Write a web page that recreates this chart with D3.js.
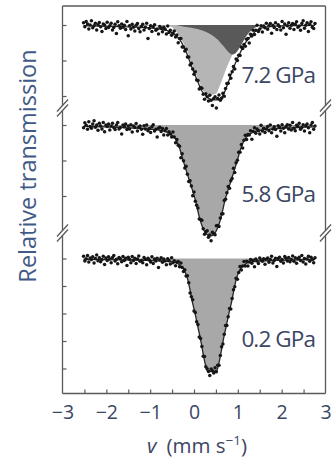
<!DOCTYPE html>
<html>
<head>
<meta charset="utf-8">
<script src="https://cdn.jsdelivr.net/npm/d3@7"></script>
<style>
  body { margin: 0; background: #fff; }
  svg { display: block; }
  text { font-family: 'Open Sans', sans-serif; }
</style>
</head>
<body>
<svg id="chart" width="332" height="461"></svg>
<script>
// velocity channels (mm/s)
const velocity = [
  -2.52,-2.49,-2.46,-2.43,-2.40,-2.37,-2.34,-2.31,-2.28,-2.25,
  -2.22,-2.19,-2.16,-2.13,-2.10,-2.07,-2.04,-2.01,-1.98,-1.95,
  -1.92,-1.89,-1.86,-1.83,-1.80,-1.77,-1.74,-1.71,-1.68,-1.65,
  -1.62,-1.59,-1.56,-1.53,-1.50,-1.47,-1.44,-1.41,-1.38,-1.35,
  -1.32,-1.29,-1.26,-1.23,-1.20,-1.17,-1.14,-1.11,-1.08,-1.05,
  -1.02,-0.99,-0.96,-0.93,-0.90,-0.87,-0.84,-0.81,-0.78,-0.75,
  -0.72,-0.69,-0.66,-0.63,-0.60,-0.57,-0.54,-0.51,-0.48,-0.45,
  -0.42,-0.39,-0.36,-0.33,-0.30,-0.27,-0.24,-0.21,-0.18,-0.15,
  -0.12,-0.09,-0.06,-0.03,0.00,0.03,0.06,0.09,0.12,0.15,
  0.18,0.21,0.24,0.27,0.30,0.33,0.36,0.39,0.42,0.45,
  0.48,0.51,0.54,0.57,0.60,0.63,0.66,0.69,0.72,0.75,
  0.78,0.81,0.84,0.87,0.90,0.93,0.96,0.99,1.02,1.05,
  1.08,1.11,1.14,1.17,1.20,1.23,1.26,1.29,1.32,1.35,
  1.38,1.41,1.44,1.47,1.50,1.53,1.56,1.59,1.62,1.65,
  1.68,1.71,1.74,1.77,1.80,1.83,1.86,1.89,1.92,1.95,
  1.98,2.01,2.04,2.07,2.10,2.13,2.16,2.19,2.22,2.25,
  2.28,2.31,2.34,2.37,2.40,2.43,2.46,2.49,2.52,2.55,
  2.58,2.61,2.64,2.67,2.70,2.73,2.76
];

// relative transmission (%) per channel
const trans72 = [
  100.06,99.95,100.10,100.03,99.89,100.00,100.12,99.92,99.98,100.05,
  99.86,100.01,100.07,99.95,99.82,100.03,100.00,99.90,100.08,99.93,
  99.98,100.05,99.86,99.93,100.02,99.76,100.09,99.98,99.91,100.03,
  99.94,99.99,99.87,100.10,99.70,99.98,99.89,100.02,99.94,99.83,
  99.99,100.04,99.90,99.81,99.96,100.02,99.86,99.94,100.05,99.62,
  99.90,99.98,99.82,99.95,100.01,99.85,99.89,99.75,99.96,99.91,
  99.81,99.94,99.88,99.75,99.97,99.79,99.85,99.71,99.77,99.83,
  99.66,99.72,99.50,99.62,99.62,99.38,99.38,99.27,99.32,99.10,
  99.10,98.87,98.92,98.76,98.61,98.68,98.45,98.44,98.20,98.24,
  98.22,98.05,97.91,98.06,97.98,97.86,98.02,97.88,97.73,97.93,
  97.98,97.66,97.93,98.03,97.88,97.94,98.08,97.99,98.21,98.35,
  98.36,98.59,98.50,98.68,98.83,98.76,99.04,99.00,99.15,99.14,
  99.38,99.34,99.45,99.40,99.60,99.62,99.49,99.74,99.69,99.85,
  99.73,99.85,99.99,99.82,99.89,99.98,99.80,99.97,99.92,100.05,
  99.88,99.98,100.04,99.77,99.99,99.93,100.06,99.87,100.01,99.96,
  99.86,100.10,99.92,100.03,99.74,99.98,100.06,99.91,99.99,100.04,
  99.87,100.02,100.09,99.94,99.97,99.85,100.04,100.12,99.91,99.99,
  100.06,99.82,100.02,100.09,99.94,99.90,100.04
];
const trans58 = [
  99.92,100.06,99.99,99.88,100.09,99.96,99.91,100.03,100.12,99.94,
  100.00,99.85,100.05,99.97,99.89,100.07,99.81,100.00,99.96,100.03,
  99.86,99.97,100.05,99.93,99.87,100.00,100.07,99.89,99.93,99.75,
  100.00,99.95,100.03,99.87,99.97,99.89,100.01,99.80,99.97,99.93,
  100.04,99.83,99.94,99.97,99.88,99.74,99.98,99.89,100.00,99.84,
  99.90,99.79,99.95,100.01,99.83,99.88,99.66,99.91,99.94,99.82,
  99.90,99.72,99.84,99.90,99.72,99.81,99.75,99.66,99.80,99.66,
  99.50,99.59,99.43,99.40,99.08,99.19,98.99,98.79,98.84,98.61,
  98.41,98.43,98.28,98.01,98.11,97.85,97.74,97.66,97.35,97.34,
  97.32,97.08,96.92,96.99,97.02,96.84,96.90,96.74,96.98,96.94,
  96.91,97.16,97.17,97.14,97.38,97.49,97.50,97.87,97.91,98.09,
  98.27,98.22,98.43,98.49,98.78,98.66,98.94,99.01,99.23,99.23,
  99.45,99.35,99.57,99.71,99.59,99.73,99.72,99.84,99.60,99.82,
  99.92,99.77,99.89,99.84,99.75,99.99,99.83,99.91,99.79,99.89,
  99.96,99.84,100.00,99.78,99.89,99.95,99.87,99.68,99.98,99.94,
  99.83,100.01,99.91,99.78,99.96,100.01,99.89,99.99,99.86,100.07,
  99.91,99.84,99.99,99.96,100.05,99.88,99.93,100.01,99.83,99.98,
  100.03,99.92,99.78,100.00,100.07,99.88,99.97
];
const trans02 = [
  100.08,99.91,99.99,100.11,99.87,100.02,99.96,100.06,99.84,100.00,
  100.13,99.92,100.03,99.88,99.96,100.08,99.78,100.02,99.93,100.06,
  99.98,99.85,100.04,100.11,99.91,99.97,99.81,100.04,99.99,99.88,
  100.07,99.93,100.01,99.75,100.05,99.97,99.85,100.07,99.93,100.01,
  99.82,99.98,100.09,99.90,99.93,99.85,100.04,99.97,99.77,100.01,
  99.95,99.87,100.06,99.82,99.98,99.91,100.01,99.67,99.95,100.03,
  99.86,99.98,99.91,99.77,99.99,99.93,99.80,100.03,99.85,99.92,
  99.74,99.86,99.89,99.70,99.84,99.67,99.53,99.59,99.36,99.37,
  99.12,98.75,98.61,98.50,98.09,98.04,97.70,97.60,97.15,97.09,
  96.80,96.45,96.44,96.06,95.99,95.89,95.75,95.98,95.92,95.84,
  96.03,95.88,96.12,96.12,96.47,96.79,96.89,97.25,97.56,97.56,
  97.88,98.18,98.16,98.55,98.86,98.97,99.28,99.25,99.49,99.71,
  99.58,99.73,99.89,99.73,99.90,99.73,99.87,99.96,99.83,99.94,
  99.70,99.98,99.91,99.82,100.02,99.95,99.90,99.99,99.79,99.97,
  100.02,99.86,99.96,100.08,99.84,99.93,100.01,99.71,100.00,100.05,
  99.90,99.96,99.84,100.07,100.01,99.91,100.04,99.88,99.96,100.09,
  99.90,100.03,99.83,99.99,100.05,99.93,100.11,99.87,100.00,99.80,
  99.98,100.08,99.90,100.05,99.96,99.85,100.03
];

// fitted curves [v, transmission %]
const fit72Total = [[-2.52,99.98],[-2.14,99.97],[-1.0,99.92],[-0.66,99.86],[-0.48,99.77],[-0.32,99.58],
  [-0.16,99.18],[-0.05,98.82],[0.07,98.45],[0.18,98.14],[0.30,97.97],[0.41,97.89],[0.52,97.89],
  [0.62,97.94],[0.68,98.06],[0.80,98.45],[0.91,98.82],[1.03,99.15],[1.14,99.44],[1.28,99.66],
  [1.44,99.86],[1.64,99.94],[2.19,99.98],[2.76,99.99]];
const fit72A = [[-2.52,99.99],[-1.2,99.97],[-0.55,99.96],[-0.43,99.86],[-0.32,99.66],[-0.16,99.27],
  [-0.05,98.90],[0.07,98.54],[0.18,98.23],[0.27,98.06],[0.39,98.03],[0.50,98.06],[0.57,98.23],
  [0.64,98.45],[0.75,98.82],[0.87,99.15],[0.98,99.52],[1.10,99.77],[1.23,99.92],[1.41,99.97],
  [1.73,99.99],[2.76,100]];
const fit72B = [[-0.40,100],[-0.30,99.97],[0.02,99.90],[0.25,99.82],[0.43,99.70],
  [0.55,99.58],[0.66,99.42],[0.78,99.25],[0.87,99.17],[0.96,99.22],[1.05,99.38],[1.14,99.58],
  [1.23,99.75],[1.32,99.86],[1.41,99.94],[1.55,99.99],[1.6,100]];
const fit58 = [[-2.52,99.96],[-1.68,99.93],[-1.33,99.91],[-1.00,99.88],[-0.83,99.86],[-0.66,99.82],
  [-0.54,99.75],[-0.41,99.58],[-0.33,99.35],[-0.25,99.01],[-0.11,98.45],[0.03,97.89],[0.14,97.32],
  [0.26,96.96],[0.37,96.87],[0.48,96.96],[0.60,97.32],[0.71,97.89],[0.85,98.45],[0.99,99.01],
  [1.07,99.35],[1.15,99.58],[1.28,99.75],[1.40,99.82],[1.57,99.86],[2.07,99.91],[2.76,99.95]];
const fit02 = [[-2.52,99.97],[-1.59,99.95],[-1.09,99.93],[-0.73,99.91],[-0.59,99.89],[-0.41,99.85],
  [-0.32,99.75],[-0.23,99.60],[-0.14,99.22],[-0.09,98.85],[-0.05,98.51],[0.03,97.96],[0.09,97.50],
  [0.15,97.05],[0.23,96.36],[0.30,95.93],[0.36,95.90],[0.41,95.89],[0.46,95.90],[0.52,95.93],
  [0.59,96.36],[0.67,97.05],[0.73,97.50],[0.79,97.96],[0.87,98.51],[0.91,98.85],[0.96,99.22],
  [1.05,99.60],[1.14,99.75],[1.23,99.85],[1.41,99.89],[1.55,99.91],[1.91,99.93],[2.41,99.95],[2.76,99.96]];

const pressureLabels = ['7.2 GPa', '5.8 GPa', '0.2 GPa'];
const xLabelTicks = [-3, -2, -1, 0, 1, 2, 3];
const xMarkTicks = [-2.5, -2, -1.5, -1, -0.5, 0, 0.5, 1, 1.5, 2, 2.5];
const yTicks72 = [100, 99, 98];
const yTicks58 = [100, 99, 98];
const yTicks02 = [100, 99, 98, 97, 96];

const svg = d3.select('#chart');
const L = 62.5, R = 325.5, T = 6, B = 393.5;
const axisColor = '#5a5a5a';
const textColor = '#3b4663';

const x = d3.scaleLinear().domain([-3, 3]).range([L, R]);

const panels = [
  { label: pressureLabels[0], data: trans72, total: fit72Total, ticks: yTicks72, labelY: 83,
    subs: [{ pts: fit72A, color: '#b5b5b5' }, { pts: fit72B, color: '#595959' }],
    y: d3.scaleLinear().domain([100, 98]).range([25, 96]) },
  { label: pressureLabels[1], data: trans58, total: fit58, ticks: yTicks58, labelY: 202,
    subs: [{ pts: fit58, color: '#a8a8a8' }],
    y: d3.scaleLinear().domain([100, 98]).range([125, 196]) },
  { label: pressureLabels[2], data: trans02, total: fit02, ticks: yTicks02, labelY: 347,
    subs: [{ pts: fit02, color: '#a8a8a8' }],
    y: d3.scaleLinear().domain([100, 96]).range([258.5, 368.5]) }
];

panels.forEach(p => {
  const g = svg.append('g');
  const area = d3.area()
    .x(d => x(d[0]))
    .y0(p.y(100))
    .y1(d => p.y(d[1]))
    .curve(d3.curveMonotoneX);
  const line = d3.line()
    .x(d => x(d[0]))
    .y(d => p.y(d[1]))
    .curve(d3.curveMonotoneX);

  g.selectAll('path.sub')
    .data(p.subs)
    .join('path')
      .attr('class', 'sub')
      .attr('d', d => area(d.pts))
      .attr('fill', d => d.color);

  g.append('path')
    .attr('d', line(p.total))
    .attr('fill', 'none')
    .attr('stroke', '#262626')
    .attr('stroke-width', 1.3);

  g.selectAll('circle')
    .data(d3.zip(velocity, p.data))
    .join('circle')
      .attr('cx', d => x(d[0]))
      .attr('cy', d => p.y(d[1]))
      .attr('r', 1.75)
      .attr('fill', '#161616');

  // inward ticks on the left axis
  const ay = g.append('g')
    .attr('transform', `translate(${L},0)`)
    .call(d3.axisLeft(p.y).tickValues(p.ticks).tickSize(-4).tickFormat(''));
  ay.select('.domain').remove();
  ay.selectAll('line').attr('stroke', axisColor).attr('stroke-width', 1.2);

  g.append('text')
    .attr('x', 315)
    .attr('y', p.labelY)
    .attr('text-anchor', 'end')
    .attr('font-size', 22.5)
    .attr('letter-spacing', -0.9)
    .attr('fill', textColor)
    .text(p.label);
});

// frame with axis breaks
const breaks = [108, 233];
const gap = 2.5;
const frame = svg.append('g')
  .attr('stroke', axisColor)
  .attr('stroke-width', 1.3)
  .attr('fill', 'none');
frame.append('line').attr('x1', L).attr('x2', R).attr('y1', T).attr('y2', T);
frame.append('line').attr('x1', L).attr('x2', R).attr('y1', B).attr('y2', B);
const segs = [[T, breaks[0] - gap], [breaks[0] + gap, breaks[1] - gap], [breaks[1] + gap, B]];
[L, R].forEach(xx => {
  segs.forEach(s => {
    frame.append('line').attr('x1', xx).attr('x2', xx).attr('y1', s[0]).attr('y2', s[1]);
  });
  breaks.forEach(b => {
    [-gap, gap].forEach(o => {
      frame.append('line')
        .attr('x1', xx - 5.5).attr('y1', b + o + 6)
        .attr('x2', xx + 5.5).attr('y2', b + o - 6);
    });
  });
});

// bottom axis: inward ticks + labels
const ax = svg.append('g')
  .attr('transform', `translate(0,${B})`)
  .call(d3.axisBottom(x).tickValues(xMarkTicks).tickSize(-4).tickFormat(''));
ax.select('.domain').remove();
ax.selectAll('line').attr('stroke', axisColor).attr('stroke-width', 1.2);

const axl = svg.append('g')
  .attr('transform', `translate(0,${B})`)
  .call(d3.axisBottom(x).tickValues(xLabelTicks).tickSize(0).tickPadding(0).tickFormat(d3.format('d')));
axl.select('.domain').remove();
axl.selectAll('text')
  .attr('y', 25.5)
  .attr('dy', null)
  .attr('font-family', "'Open Sans', sans-serif")
  .attr('font-size', 19.5)
  .attr('fill', textColor);

// axis titles
const xt = svg.append('text')
  .attr('x', 197)
  .attr('y', 453)
  .attr('text-anchor', 'middle')
  .attr('font-size', 20.5)
  .attr('fill', textColor);
xt.append('tspan').attr('font-style', 'italic').text('v');
xt.append('tspan').attr('dx', 10).text('(mm s');
xt.append('tspan').attr('dy', -8).attr('font-size', 13.5).text('−1');
xt.append('tspan').attr('dy', 8).text(')');

svg.append('text')
  .attr('transform', 'translate(36,166) rotate(-90)')
  .attr('text-anchor', 'middle')
  .attr('font-size', 23.5)
  .attr('fill', '#3f5a86')
  .text('Relative transmission');
</script>
</body>
</html>
